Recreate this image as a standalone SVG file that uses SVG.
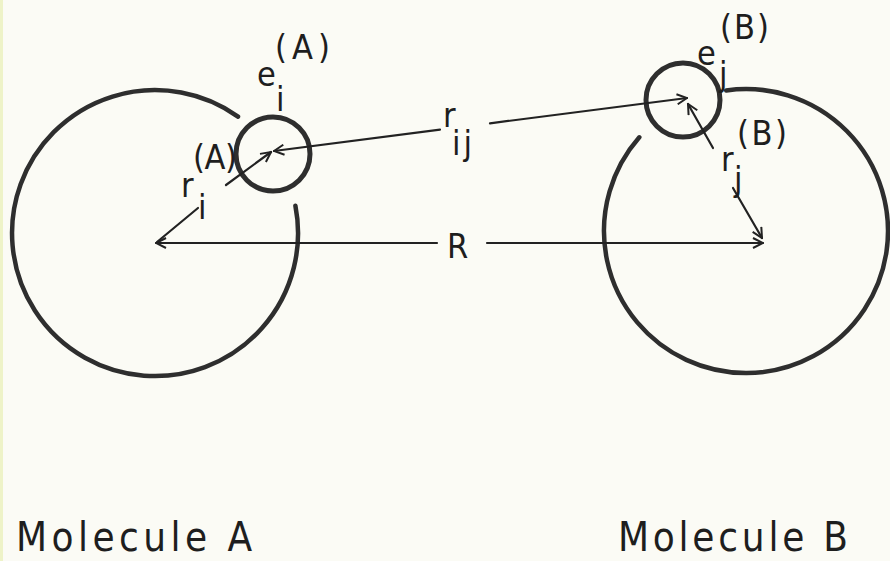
<svg xmlns="http://www.w3.org/2000/svg" width="890" height="561" viewBox="0 0 890 561">
<style>
.bg{fill:#fbfbf5}
.big{fill:none;stroke:#2e2e2e;stroke-width:4.5;stroke-linecap:round}
.small{fill:none;stroke:#2e2e2e;stroke-width:5}
.ln{fill:none;stroke:#222;stroke-width:2.2;stroke-linecap:round}
text{font-family:"DejaVu Sans Condensed","DejaVu Sans",sans-serif;fill:#1e1e1e}
.lab{font-size:34px}
.cap{font-size:40px}
</style>
<defs>
<marker id="ah" viewBox="0 0 12 12" refX="11" refY="6" markerWidth="12" markerHeight="12" markerUnits="userSpaceOnUse" orient="auto-start-reverse">
<path d="M1,1 L11,6 L1,11" fill="none" stroke="#222" stroke-width="2"/>
</marker>
</defs>
<rect class="bg" x="0" y="0" width="890" height="561"/>
<rect x="0" y="0" width="3" height="561" fill="#eef3c8"/>

<g id="moleculeA">
<path class="big" d="M295.4,205.7 A143,143 0 1 1 238,116.6"/>
<text class="cap" x="16" y="551" textLength="236" lengthAdjust="spacing">Molecule A</text>
</g>
<g id="moleculeB">
<path class="big" d="M726.2,90.4 A142,142 0 1 1 639.3,137.3"/>
<text class="cap" x="618" y="551" textLength="230" lengthAdjust="spacing">Molecule B</text>
</g>
<g id="electronA">
<circle class="small" cx="273" cy="154" r="37"/>
<text class="lab" x="257" y="86">e</text>
<text class="lab" x="276" y="111">i</text>
<text class="lab" x="275" y="59" textLength="55" lengthAdjust="spacing">(A)</text>
</g>
<g id="electronB">
<circle class="small" cx="683" cy="100" r="37"/>
<text class="lab" x="697" y="65">e</text>
<text class="lab" x="719" y="86">j</text>
<text class="lab" x="720" y="39" textLength="49" lengthAdjust="spacing">(B)</text>
</g>

<g id="connectors">
<line class="ln" x1="440" y1="129.7" x2="274" y2="151" marker-end="url(#ah)"/>
<line class="ln" x1="490" y1="123.3" x2="687" y2="98" marker-end="url(#ah)"/>
<line class="ln" x1="437" y1="243" x2="156" y2="243" marker-end="url(#ah)"/>
<line class="ln" x1="487" y1="243" x2="763" y2="243" marker-end="url(#ah)"/>
<line class="ln" x1="226" y1="185" x2="271" y2="152" marker-end="url(#ah)"/>
<line class="ln" x1="198" y1="208" x2="157" y2="242"/>
<line class="ln" x1="713" y1="148" x2="688" y2="104" marker-end="url(#ah)"/>
<line class="ln" x1="733" y1="188" x2="762" y2="238" marker-end="url(#ah)"/>
</g>

<g id="labels">
<text class="lab" x="443" y="127">r</text>
<text class="lab" x="452" y="155" letter-spacing="3">ij</text>
<text class="lab" x="447" y="258" font-size="36">R</text>
<text class="lab" x="193" y="169" textLength="44" lengthAdjust="spacing">(A)</text>
<text class="lab" x="181" y="197">r</text>
<text class="lab" x="198" y="219">i</text>
<text class="lab" x="737" y="145" textLength="50" lengthAdjust="spacing">(B)</text>
<text class="lab" x="721" y="171">r</text>
<text class="lab" x="734" y="191">j</text>
</g>
</svg>
